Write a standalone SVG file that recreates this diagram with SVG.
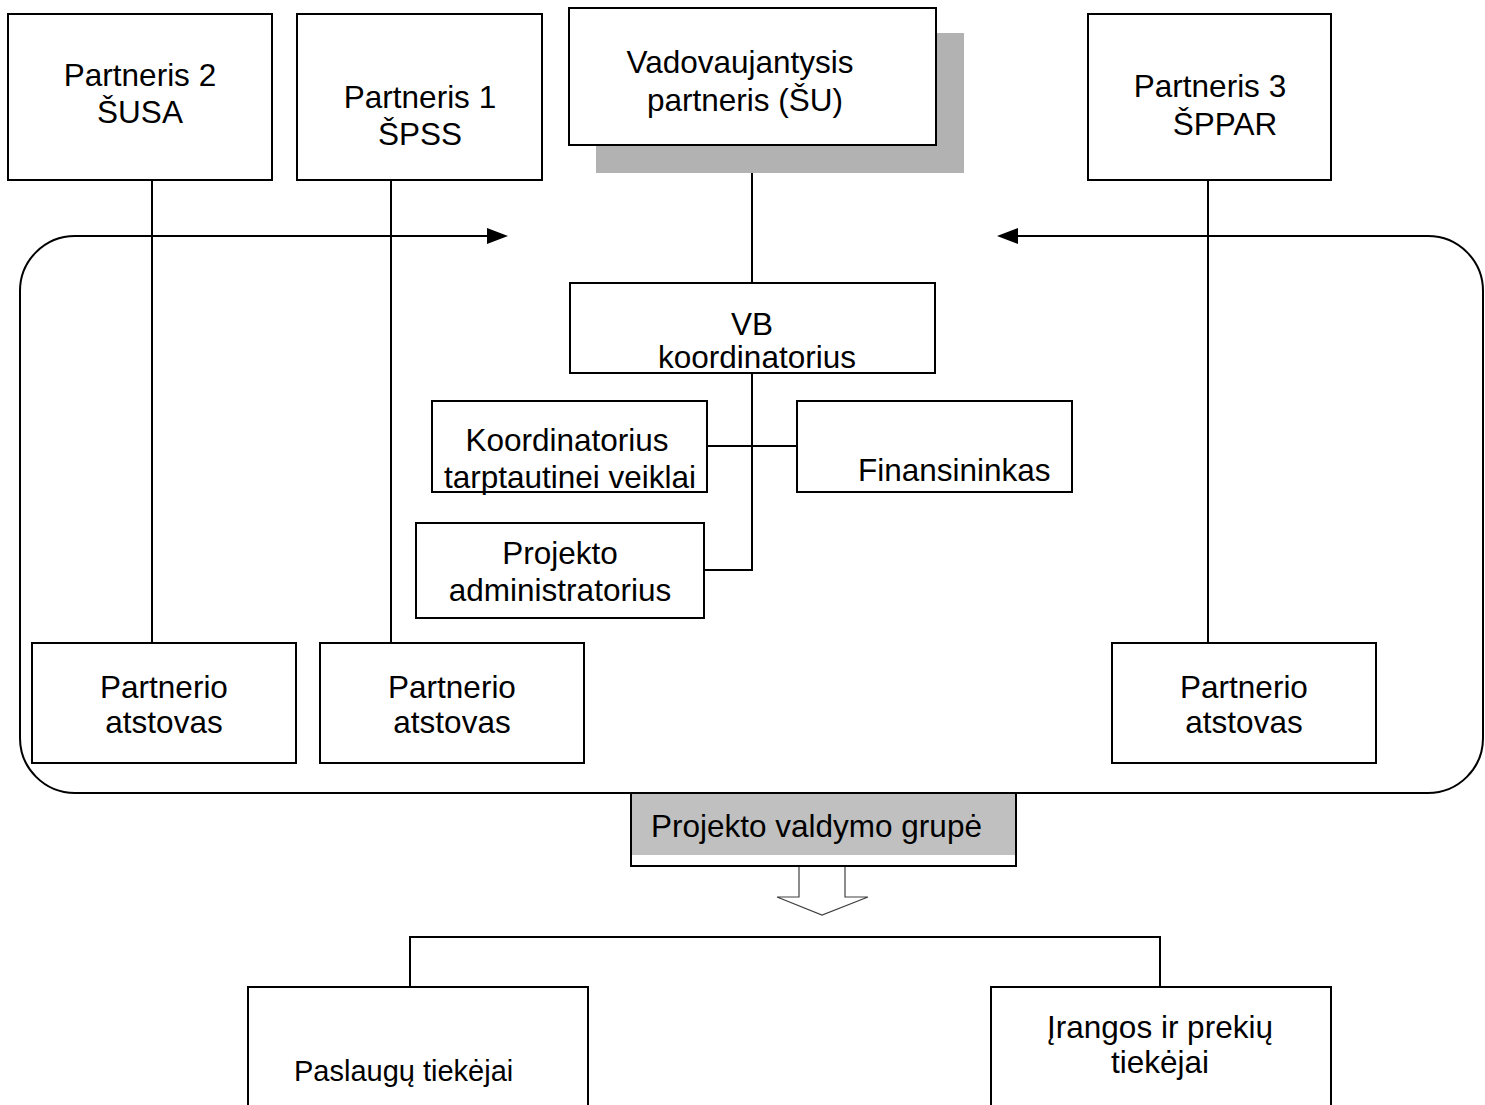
<svg xmlns="http://www.w3.org/2000/svg" width="1485" height="1105" viewBox="0 0 1485 1105">
<style>
.box{fill:#fff;stroke:#000;stroke-width:2}
.ln{fill:none;stroke:#000;stroke-width:2}
text{font-family:"Liberation Sans",Arial,sans-serif;font-size:31.5px;fill:#000}
.c{text-anchor:middle}
</style>
<rect width="1485" height="1105" fill="#fff"/>
<g id="connectors">
<path class="ln" d="M488,236 H75 A55,55 0 0 0 20,291 V738 A55,55 0 0 0 75,793 H1428 A55,55 0 0 0 1483,738 V291 A55,55 0 0 0 1428,236 H1017"/>
<path d="M487,228 L508,236 L487,244 z" fill="#000"/>
<path d="M1018,228 L997,236 L1018,244 z" fill="#000"/>
<line class="ln" x1="152" y1="180" x2="152" y2="643"/>
<line class="ln" x1="391" y1="180" x2="391" y2="643"/>
<line class="ln" x1="1208" y1="180" x2="1208" y2="643"/>
<line class="ln" x1="752" y1="145" x2="752" y2="283"/>
<line class="ln" x1="752" y1="373" x2="752" y2="571"/>
<line class="ln" x1="707" y1="446" x2="797" y2="446"/>
<line class="ln" x1="704" y1="570" x2="753" y2="570"/>
<path d="M799,866 V897 H777 L822,915 L868,897 H845 V866" fill="#fff" stroke="#404040" stroke-width="1.2"/>
<path class="ln" d="M410,987 V937 H1160 V987"/>
</g>
<g id="partneris2">
<rect class="box" x="8" y="14" width="264" height="166"/>
<text class="c" x="140" y="86">Partneris 2</text>
<text class="c" x="140" y="123">ŠUSA</text>
</g>
<g id="partneris1">
<rect class="box" x="297" y="14" width="245" height="166"/>
<text class="c" x="420" y="108">Partneris 1</text>
<text class="c" x="420" y="145">ŠPSS</text>
</g>
<g id="vadovaujantysis">
<rect x="596" y="33" width="368" height="140" fill="#b2b2b2"/>
<rect class="box" x="569" y="8" width="367" height="137"/>
<text class="c" x="740" y="73">Vadovaujantysis</text>
<text class="c" x="745" y="111">partneris (ŠU)</text>
</g>
<g id="partneris3">
<rect class="box" x="1088" y="14" width="243" height="166"/>
<text class="c" x="1210" y="97">Partneris 3</text>
<text class="c" x="1225" y="135">ŠPPAR</text>
</g>
<g id="vb">
<rect class="box" x="570" y="283" width="365" height="90"/>
<text class="c" x="752" y="335">VB</text>
<text class="c" x="757" y="368">koordinatorius</text>
</g>
<g id="koordinatorius">
<rect class="box" x="432" y="401" width="275" height="91"/>
<text class="c" x="567" y="451">Koordinatorius</text>
<text class="c" x="570" y="488">tarptautinei veiklai</text>
</g>
<g id="finansininkas">
<rect class="box" x="797" y="401" width="275" height="91"/>
<text x="858" y="481">Finansininkas</text>
</g>
<g id="administratorius">
<rect class="box" x="416" y="523" width="288" height="95"/>
<text class="c" x="560" y="564">Projekto</text>
<text class="c" x="560" y="601">administratorius</text>
</g>
<g id="atstovas1">
<rect class="box" x="32" y="643" width="264" height="120"/>
<text class="c" x="164" y="698">Partnerio</text>
<text class="c" x="164" y="733">atstovas</text>
</g>
<g id="atstovas2">
<rect class="box" x="320" y="643" width="264" height="120"/>
<text class="c" x="452" y="698">Partnerio</text>
<text class="c" x="452" y="733">atstovas</text>
</g>
<g id="atstovas3">
<rect class="box" x="1112" y="643" width="264" height="120"/>
<text class="c" x="1244" y="698">Partnerio</text>
<text class="c" x="1244" y="733">atstovas</text>
</g>
<g id="valdymo-grupe">
<rect class="box" x="631" y="793" width="385" height="73"/>
<rect x="632" y="794" width="383" height="61" fill="#c0c0c0"/>
<text x="651" y="837">Projekto valdymo grupė</text>
</g>
<g id="paslaugu">
<rect class="box" x="248" y="987" width="340" height="140"/>
<text x="294" y="1081" style="font-size:29px">Paslaugų tiekėjai</text>
</g>
<g id="irangos">
<rect class="box" x="991" y="987" width="340" height="140"/>
<text class="c" x="1160" y="1038">Įrangos ir prekių</text>
<text class="c" x="1160" y="1073">tiekėjai</text>
</g>
</svg>
